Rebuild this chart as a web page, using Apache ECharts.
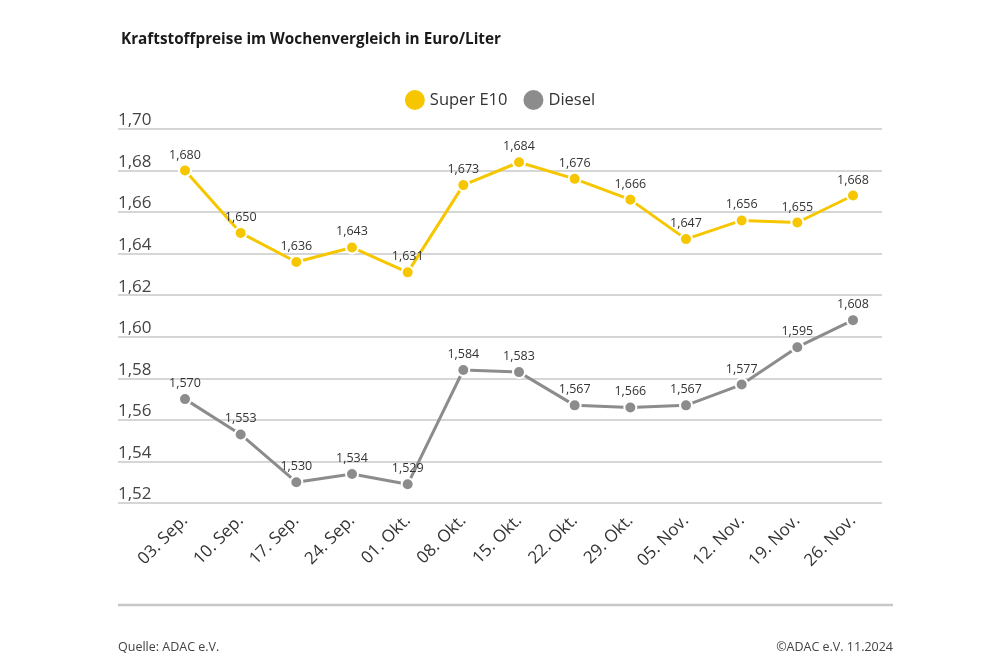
<!DOCTYPE html>
<html>
<head>
<meta charset="utf-8">
<script src="https://cdn.jsdelivr.net/npm/echarts@6/dist/echarts.min.js"></script>
<style>
html,body{margin:0;padding:0;background:#fff;}
#chart{width:1000px;height:667px;}
</style>
</head>
<body>
<div id="chart"></div>
<script>
const categories = ['03. Sep.','10. Sep.','17. Sep.','24. Sep.','01. Okt.','08. Okt.','15. Okt.','22. Okt.','29. Okt.','05. Nov.','12. Nov.','19. Nov.','26. Nov.'];
const superE10 = [1.680,1.650,1.636,1.643,1.631,1.673,1.684,1.676,1.666,1.647,1.656,1.655,1.668];
const diesel = [1.570,1.553,1.530,1.534,1.529,1.584,1.583,1.567,1.566,1.567,1.577,1.595,1.608];
const yMin = 1.52, yMax = 1.70, yStep = 0.02;

const FONT = '"Open Sans", "Noto Sans", sans-serif';
const YELLOW = '#F6C700';
const GRAY = '#8C8C8C';
const chart = echarts.init(document.getElementById('chart'), null, {renderer:'canvas'});

const fmt3 = v => v.toFixed(3).replace('.', ',');

function lineSeries(name, data, color){
  return {
    name, type:'line', xAxisIndex:1, yAxisIndex:1, data,
    symbol:'circle', symbolSize:12,
    lineStyle:{color, width:3},
    itemStyle:{color, borderColor:'#fff', borderWidth:2},
    label:{show:true, position:'top', distance:2, fontFamily:FONT, fontSize:12.5, color:'#333',
      formatter:p => fmt3(p.value)},
    emphasis:{disabled:true},
    z:3
  };
}

chart.setOption({
  animation:false,
  backgroundColor:'#fff',
  textStyle:{fontFamily:FONT},
  title:{
    text:'Kraftstoffpreise im Wochenvergleich in Euro/Liter',
    left:116, top:27,
    textStyle:{fontFamily:FONT, fontSize:15.3, fontWeight:'bold', color:'#1a1a1a'}
  },
  legend:{
    top:85, left:'center',
    icon:'circle', itemWidth:20, itemHeight:20, itemGap:16,
    textStyle:{fontFamily:FONT, fontSize:16.5, color:'#333'},
    data:[{name:'Super E10', itemStyle:{color:YELLOW, borderWidth:0}},{name:'Diesel', itemStyle:{color:GRAY, borderWidth:0}}]
  },
  grid:[
    {left:118, right:118, top:129, bottom:164},
    {left:185, right:147, top:129, bottom:164}
  ],
  xAxis:[
    {type:'category', gridIndex:0, data:categories, show:false},
    {type:'category', gridIndex:1, data:categories, boundaryGap:false,
      axisLine:{show:false}, axisTick:{show:false},
      axisLabel:{rotate:45, margin:15, fontFamily:FONT, fontSize:17, color:'#333', interval:0}}
  ],
  yAxis:[
    {type:'value', gridIndex:0, min:yMin, max:yMax, interval:yStep,
      axisLine:{show:false}, axisTick:{show:false},
      splitLine:{lineStyle:{color:'#c8c8c8', width:1.5}},
      axisLabel:{inside:true, align:'left', verticalAlign:'bottom', margin:0, padding:[0,0,0,0],
        fontFamily:FONT, fontSize:17, color:'#444',
        formatter:v => v.toFixed(2).replace('.', ',')}
    },
    {type:'value', gridIndex:1, min:yMin, max:yMax, interval:yStep, show:false,
      splitLine:{show:false}}
  ],
  series:[
    lineSeries('Super E10', superE10, YELLOW),
    lineSeries('Diesel', diesel, GRAY)
  ],
  graphic:[
    {type:'line', shape:{x1:118, y1:605, x2:893, y2:605}, style:{stroke:'#c8c8c8', lineWidth:2.5}},
    {type:'text', left:118, top:641, style:{text:'Quelle: ADAC e.V.', fontFamily:FONT, fontSize:12.5, fill:'#444'}},
    {type:'text', right:107, top:641, style:{text:'©ADAC e.V. 11.2024', fontFamily:FONT, fontSize:12.5, fill:'#444'}}
  ]
});
</script>
</body>
</html>
